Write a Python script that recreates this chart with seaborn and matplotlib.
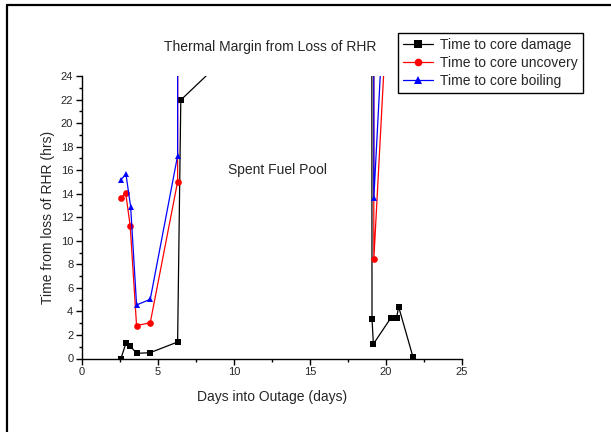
import numpy as np
import pandas as pd
import seaborn as sns
import matplotlib
matplotlib.use("Agg")
import matplotlib.pyplot as plt
from matplotlib.ticker import MultipleLocator
from matplotlib.lines import Line2D

# ---- data ----
damage_days = [2.56, 2.89, 3.17, 3.59, 4.47, 6.29, 6.50, 19.06, 19.08, 19.17, 20.33, 20.70, 20.83, 21.77]
damage_hrs  = [0.00, 1.29, 1.06, 0.44, 0.49, 1.40, 21.96, 37.4, 3.36, 1.23, 3.47, 3.47, 4.40, 0.15]

uncovery_days = [2.56, 2.87, 3.17, 3.59, 4.49, 6.29, 6.40, 19.10, 19.20, 20.30]
uncovery_hrs  = [13.61, 14.09, 11.28, 2.79, 3.04, 15.02, 300.0, 300.0, 8.43, 35.2]

boiling_days = [2.56, 2.89, 3.20, 3.59, 4.49, 6.29, 6.37, 19.10, 19.20, 20.30]
boiling_hrs  = [15.17, 15.68, 12.90, 4.55, 5.03, 17.23, 300.0, 300.0, 13.66, 40.7]

series_names = ["Time to core damage", "Time to core uncovery", "Time to core boiling"]
colors = ["#000000", "#ff0000", "#0000ff"]
markers = ["s", "o", "^"]

frames = []
for name, d, h in zip(series_names,
                      [damage_days, uncovery_days, boiling_days],
                      [damage_hrs, uncovery_hrs, boiling_hrs]):
    frames.append(pd.DataFrame({"days": d, "hrs": h, "series": name}))
df = pd.concat(frames, ignore_index=True)

sns.set_theme(style="white")
plt.rcParams["font.family"] = ["Liberation Sans", "DejaVu Sans"]

fig = plt.figure(figsize=(6.11, 4.32), dpi=100)
ax = fig.add_axes([82/611, 1-358.5/432, (462-82)/611, (358.5-76)/432])

for name, c, m in zip(series_names, colors, markers):
    sub = df[df["series"] == name]
    sns.lineplot(data=sub, x="days", y="hrs", sort=False, estimator=None,
                 color=c, marker=m, markersize=4.8, markeredgewidth=0,
                 markeredgecolor=c, linewidth=0.9, ax=ax, legend=False)

ax.set_xlim(0, 25)
ax.set_ylim(0, 24)
ax.xaxis.set_major_locator(MultipleLocator(5))
ax.xaxis.set_minor_locator(MultipleLocator(2.5))
ax.yaxis.set_major_locator(MultipleLocator(2))
ax.yaxis.set_minor_locator(MultipleLocator(1))
for s in ["top", "right"]:
    ax.spines[s].set_visible(False)
for s in ["left", "bottom"]:
    ax.spines[s].set_color("black")
    ax.spines[s].set_linewidth(1.0)
ax.tick_params(which="major", direction="out", length=4.3, width=1, color="black",
               labelsize=8, pad=2, left=True, bottom=True)
ax.tick_params(which="minor", direction="out", length=2.3, width=1, color="black",
               left=True, bottom=True)
ax.set_xlabel("Days into Outage (days)", fontsize=10, labelpad=9)
ax.set_ylabel("Time from loss of RHR (hrs)", fontsize=10, labelpad=4)
ax.grid(False)

fig.text(270.5/611, 1-46.7/432, "Thermal Margin from Loss of RHR", fontsize=10,
         ha="center", va="center")
fig.text(278/611, 1-170/432, "Spent Fuel Pool", fontsize=10,
         ha="center", va="center")

handles = [Line2D([], [], color=c, marker=m, markersize=5.5, markeredgewidth=0,
                  linewidth=0.9) for c, m in zip(colors, markers)]
leg = fig.legend(handles, series_names, loc="upper left",
                 bbox_to_anchor=(398/611, 1-33/432), fontsize=10,
                 frameon=True, fancybox=False, framealpha=1,
                 edgecolor="black", handlelength=2.2, handletextpad=0.5,
                 borderpad=0.35, labelspacing=0.3, borderaxespad=0)
leg.get_frame().set_linewidth(1.0)

# page frame around the figure
fig.add_artist(Line2D([7.5/611, 7.5/611], [0, 1-5/432], color="black",
                      linewidth=1.6, transform=fig.transFigure))
fig.add_artist(Line2D([7.5/611, 1], [1-5/432, 1-5/432], color="black",
                      linewidth=1.6, transform=fig.transFigure))

fig.savefig("out.png", dpi=100)
